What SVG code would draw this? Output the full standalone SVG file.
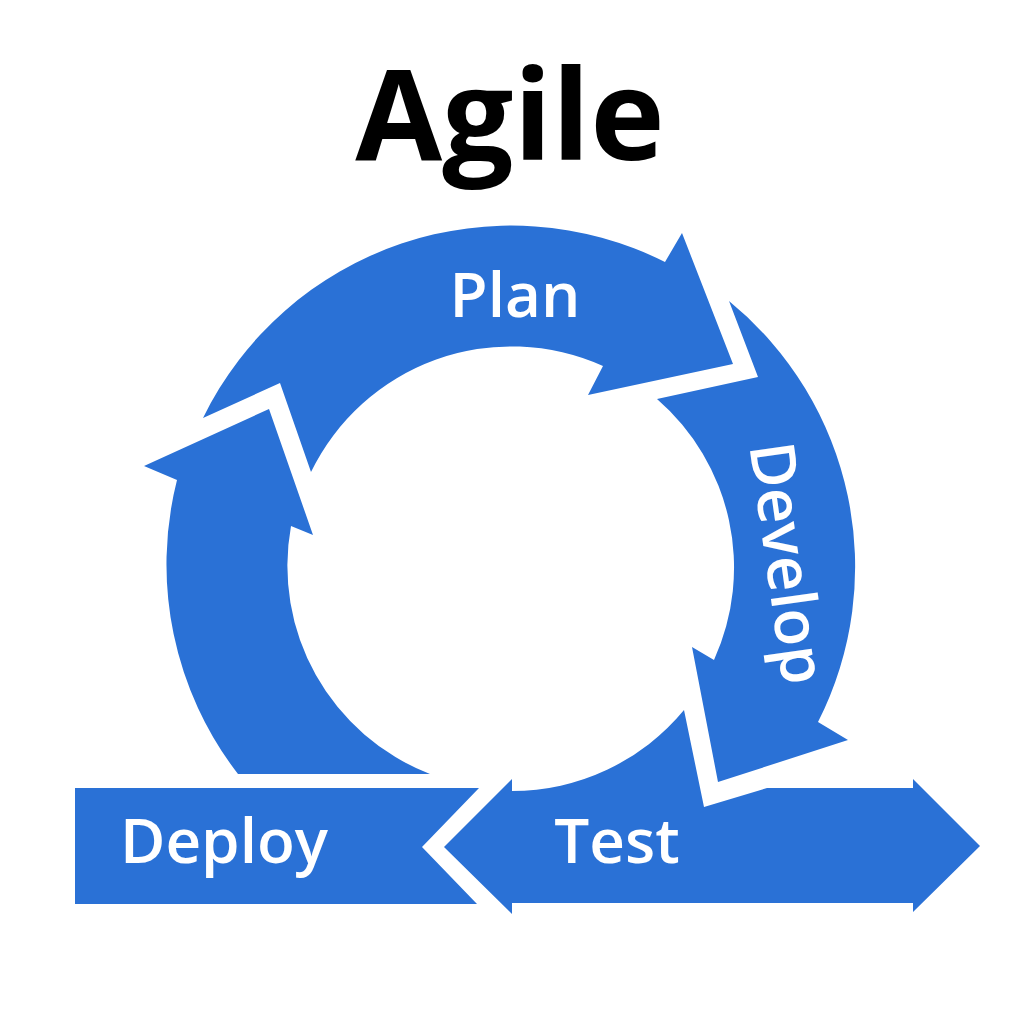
<svg xmlns="http://www.w3.org/2000/svg" width="1024" height="1024" viewBox="0 0 1024 1024">
  <style>
    .shape { fill: #2a71d6; }
    .label { fill: #ffffff; font-family: "Open Sans", "Noto Sans", "Liberation Sans", sans-serif; font-weight: 650; font-size: 62px; }
    .title { fill: #000000; font-family: "Open Sans", "Noto Sans", "Liberation Sans", sans-serif; font-weight: 700; font-size: 126px; }
  </style>
  <rect width="1024" height="1024" fill="#ffffff"/>
  <text class="title" x="510" y="160" text-anchor="middle">Agile</text>
  <g id="connectors">
    <!-- the cycle is formed by the arrow shapes themselves -->
  </g>
  <g id="plan">
    <path class="shape" d="M 203 418 A 343 343 0 0 1 665 262 L 682 233 L 733 364 L 588 395 L 603 366 A 223 223 0 0 0 311 472 L 280 383 Z"/>
    <text class="label" x="515" y="317" text-anchor="middle">Plan</text>
  </g>
  <g id="develop">
    <path class="shape" d="M 729 301 A 343 343 0 0 1 818 722 L 848 740 L 718 782 L 692 647 L 714 660 A 223 223 0 0 0 657 399 L 758 377 Z"/>
    <text class="label" transform="translate(788 563) rotate(82)" x="0" y="22" text-anchor="middle">Develop</text>
  </g>
  <g id="test">
    <path class="shape" d="M 512 779 L 512 791 A 223 223 0 0 0 684 710 L 704 807 L 767 788 L 913 788 L 913 779 L 980 846 L 913 912 L 913 903 L 512 903 L 512 914 L 444 847 Z"/>
    <text class="label" x="617" y="863" text-anchor="middle">Test</text>
  </g>
  <g id="deploy">
    <path class="shape" d="M 75 788 L 479 788 L 422 847 L 477 904 L 75 904 Z"/>
    <text class="label" x="224" y="863" text-anchor="middle">Deploy</text>
  </g>
  <g id="deploy-to-plan">
    <path class="shape" d="M 238 774 A 343 343 0 0 1 177 480 L 144 466 L 269 409 L 313 535 L 291 526 A 223 223 0 0 0 430 774 Z"/>
  </g>
</svg>
